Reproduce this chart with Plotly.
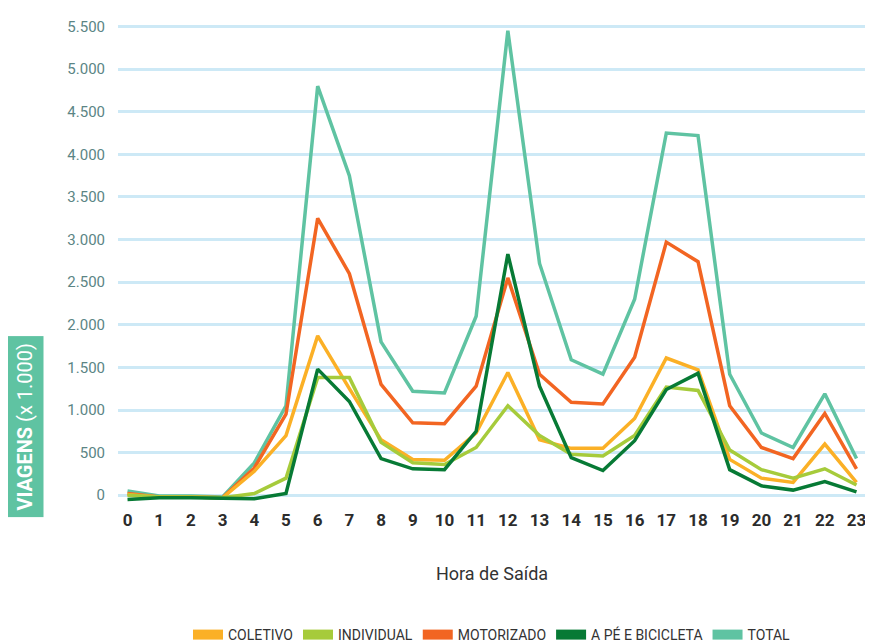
import plotly.graph_objects as go

hours = list(range(24))
total = [50, -10, -10, -20, 380, 1050, 4800, 3750, 1800, 1220, 1200, 2100, 5450, 2720, 1590, 1420, 2300, 4250, 4220, 1420, 730, 560, 1190, 430]
motorizado = [20, -20, -20, -30, 320, 950, 3250, 2600, 1300, 850, 840, 1280, 2550, 1420, 1090, 1070, 1620, 2970, 2740, 1050, 560, 430, 960, 310]
coletivo = [10, -20, -20, -30, 280, 700, 1870, 1250, 650, 420, 410, 730, 1440, 650, 550, 550, 900, 1610, 1470, 420, 200, 150, 600, 150]
individual = [0, -20, -20, -30, 20, 200, 1380, 1380, 620, 380, 360, 560, 1050, 700, 480, 460, 700, 1270, 1230, 530, 300, 200, 310, 120]
ape = [-50, -30, -30, -40, -40, 20, 1480, 1100, 430, 310, 300, 750, 2830, 1280, 440, 290, 640, 1240, 1430, 300, 110, 60, 160, 40]

series = [
    ("COLETIVO", coletivo, "#fbb026"),
    ("INDIVIDUAL", individual, "#a6cb3b"),
    ("MOTORIZADO", motorizado, "#f26522"),
    ("A PÉ E BICICLETA", ape, "#077a35"),
    ("TOTAL", total, "#5fc3a2"),
]
draw_order = ["TOTAL", "MOTORIZADO", "COLETIVO", "INDIVIDUAL", "A PÉ E BICICLETA"]

fig = go.Figure()
lookup = {s[0]: s for s in series}
for name in draw_order:
    n, vals, col = lookup[name]
    fig.add_trace(go.Scatter(x=hours, y=vals, mode="lines", name=n, showlegend=False,
                             line=dict(color=col, width=3.5)))
# legend entries in original order
for n, vals, col in series:
    fig.add_trace(go.Scatter(x=[None], y=[None], mode="lines", name=n,
                             line=dict(color=col, width=14)))

fig.update_layout(
    width=873, height=643,
    plot_bgcolor="white", paper_bgcolor="white",
    margin=dict(l=110, r=15, t=10, b=143),
    separators=",.",
    font=dict(family="Roboto", color="#5b8585"),
    xaxis=dict(tickmode="array", tickvals=hours, range=[-0.3, 23.3],
               showgrid=False, zeroline=False, automargin=False,
               tickfont=dict(family="Roboto", size=17, color="#2c2c2c", weight="bold"),
               title=dict(text="Hora de Saída", font=dict(size=18, color="#333"), standoff=38)),
    yaxis=dict(range=[-150, 5600], tickvals=list(range(0, 5501, 500)),
               tickformat=",d", gridcolor="#cde9f6", gridwidth=3, zeroline=False,
               tickfont=dict(size=15, color="#5b8585"), ticklabelstandoff=12),
    legend=dict(orientation="h", x=0.5, xanchor="center", yref="container", y=0.0, yanchor="bottom",
                font=dict(size=14, color="#333"), entrywidth=0),
    annotations=[dict(text="<b>VIAGENS</b> (x 1.000)", xref="paper", yref="paper",
                      x=-0.15, y=-0.02, yanchor="bottom", textangle=-90, showarrow=False,
                      bgcolor="#5fc3a2", font=dict(color="white", size=20),
                      borderpad=6)],
)

fig.write_html("out.html")
